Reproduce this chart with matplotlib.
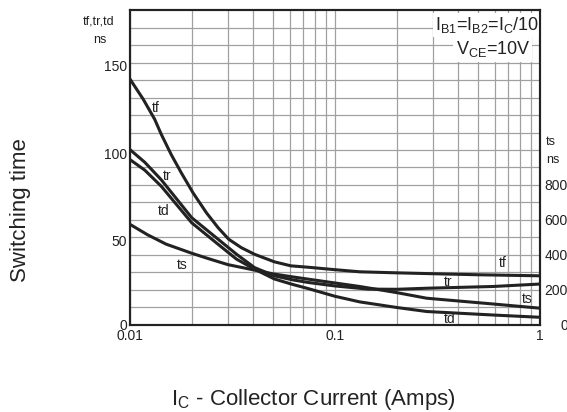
import matplotlib
matplotlib.use('Agg')
import matplotlib.pyplot as plt
import matplotlib.transforms as mtransforms
from matplotlib.ticker import LogLocator, NullFormatter, FixedLocator

plt.rcParams['font.family'] = ['Liberation Sans', 'DejaVu Sans']
plt.rcParams['mathtext.fontset'] = 'custom'
plt.rcParams['mathtext.rm'] = 'Liberation Sans'

# --- data (Ic in A, times in ns) ---
ic_tf = [0.01, 0.0116, 0.0132, 0.0142, 0.0159, 0.0178, 0.0203, 0.0236, 0.0269, 0.0303,
         0.0349, 0.0405, 0.0506, 0.0609, 0.074, 0.1, 0.132, 0.2, 0.3, 0.5, 1.0]
tf = [140.5, 129, 117.5, 109, 97.3, 86.9, 75.5, 64.1, 55.6, 49,
      44.2, 40.4, 36.1, 33.8, 33, 31.6, 30.4, 29.8, 29.3, 28.7, 28.1]

ic_tr = [0.01, 0.0118, 0.0142, 0.02, 0.0269, 0.0331, 0.0405, 0.0506, 0.062, 0.074,
         0.1, 0.145, 0.2, 0.28, 0.59, 1.0]
tr = [100.2, 93, 83, 61.3, 49, 40.4, 32.8, 28.1, 25.8, 24.3,
      22.3, 20.5, 20.4, 21, 22, 23.4]

ic_td = [0.01, 0.0118, 0.0142, 0.02, 0.0269, 0.0331, 0.0405, 0.0506, 0.062, 0.074,
         0.1, 0.132, 0.2, 0.28, 0.59, 1.0]
td = [94.5, 88.5, 79.3, 58.4, 46.1, 37.6, 31.9, 26.3, 23.2, 20.8,
      16.4, 13.2, 10, 7.7, 5.7, 4.4]

# ts is read on the right-hand axis (0..1800 ns)
ic_ts = [0.01, 0.0122, 0.015, 0.02, 0.024, 0.03, 0.04, 0.05, 0.062, 0.074,
         0.1, 0.132, 0.2, 0.28, 0.59, 1.0]
ts = [575, 515, 462, 410, 380, 345, 315, 292, 275, 262,
      240, 220, 185, 153, 120, 96]

left_ticks = [0, 50, 100, 150]
right_ticks = [0, 200, 400, 600, 800]
x_ticks = [0.01, 0.1, 1]
x_ticklabels = ['0.01', '0.1', '1']

# curve labels: (text, x, y on left scale)
curve_labels = [('tf', 0.0133, 124), ('tr', 0.0152, 85), ('td', 0.0146, 65), ('ts', 0.0179, 34),
                ('tf', 0.66, 35.5), ('tr', 0.356, 24.5), ('ts', 0.87, 15), ('td', 0.363, 3.4)]

line_kw = dict(color='#222222', lw=2.2, solid_capstyle='round', solid_joinstyle='round')

fig = plt.figure(figsize=(5.67, 4.12), dpi=100)
ax = fig.add_axes([0.2293, 0.2112, 0.7231, 0.7645])
ax.set_xscale('log')
ax.set_xlim(0.01, 1)
ax.set_ylim(0, 180)

ax.plot(ic_tf, tf, **line_kw)
ax.plot(ic_tr, tr, **line_kw)
ax.plot(ic_td, td, **line_kw)

ax2 = ax.twinx()
ax2.set_ylim(0, 1800)
ax2.plot(ic_ts, ts, **line_kw)

# grid
ax.yaxis.set_minor_locator(FixedLocator(range(10, 180, 10)))
ax.xaxis.set_major_locator(FixedLocator(x_ticks))
ax.xaxis.set_minor_locator(LogLocator(base=10, subs=range(2, 10)))
ax.xaxis.set_minor_formatter(NullFormatter())
ax.grid(True, which='both', color='#a0a0a0', lw=0.9)
ax.set_axisbelow(True)

ax.set_yticks(left_ticks)
ax.set_xticklabels(x_ticklabels)
ax.tick_params(which='both', length=0, labelsize=10, colors='#222222')
ax.tick_params(axis='y', pad=2)
ax.tick_params(axis='x', pad=3)
# the printed labels sit a little below their gridlines (except the 0)
off = mtransforms.ScaledTranslation(0, -3 / 100, fig.dpi_scale_trans)
for val, lab in zip(left_ticks, ax.get_yticklabels()):
    if val:
        lab.set_transform(lab.get_transform() + off)

ax2.set_yticks(right_ticks)
ax2.tick_params(length=0, labelsize=10, colors='#222222', pad=20)
for lab in ax2.get_yticklabels():
    lab.set_ha('right')

for a in (ax, ax2):
    for s in a.spines.values():
        s.set_linewidth(1.5)
        s.set_color('#222222')

for txt, x, y in curve_labels:
    ax.text(x, y, txt, fontsize=10, ha='center', va='center', color='#222222')

# condition box, top right
box = dict(facecolor='white', edgecolor='none', pad=1.5)
ax.text(0.998, 0.985, r'I$_\mathregular{B1}$=I$_\mathregular{B2}$=I$_\mathregular{C}$/10',
        transform=ax.transAxes, ha='right', va='top', fontsize=13, color='#222222', bbox=box)
ax.text(0.885, 0.875, r'V$_\mathregular{CE}$=10V',
        transform=ax.transAxes, ha='center', va='center', fontsize=13, color='#222222', bbox=box)

# axis unit labels
fig.text(0.173, 0.947, 'tf,tr,td', fontsize=9, ha='center', va='center', color='#222222')
fig.text(0.176, 0.903, 'ns', fontsize=9, ha='center', va='center', color='#222222')
fig.text(0.963, 0.655, 'ts', fontsize=9, ha='left', va='center', color='#222222')
fig.text(0.963, 0.612, 'ns', fontsize=9, ha='left', va='center', color='#222222')

fig.text(0.037, 0.49, 'Switching time', rotation=90, fontsize=16, ha='center', va='center',
         color='#222222')
fig.text(0.552, 0.03, r'I$_\mathregular{C}$ - Collector Current (Amps)', fontsize=16,
         ha='center', va='center', color='#222222')

fig.savefig('out.png', dpi=100)
